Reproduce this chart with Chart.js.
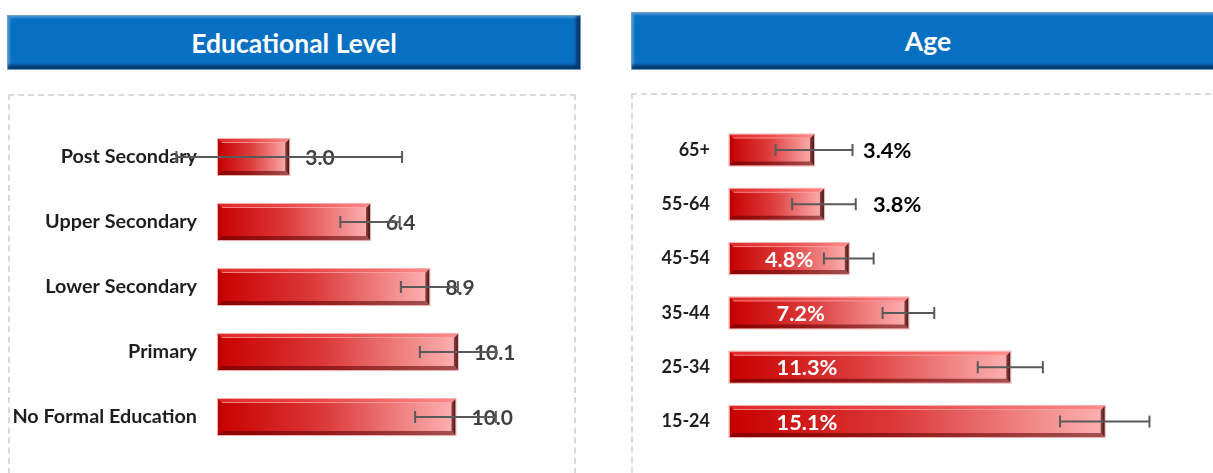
<!DOCTYPE html>
<html>
<head>
<meta charset="utf-8">
<script src="https://cdn.jsdelivr.net/npm/chart.js@4.4.1/dist/chart.umd.min.js"></script>
<style>
  html, body { margin: 0; padding: 0; background: #ffffff; }
  body { width: 1213px; height: 473px; overflow: hidden; position: relative; font-family: Lato, "Open Sans", sans-serif; }
  .title-bar {
    position: absolute; box-sizing: border-box;
    background: #0870c2;
    border: 1px solid #6f9cc8;
    box-shadow: inset -4px -4px 3px rgba(0, 10, 45, 0.55), inset 2px 2px 2px rgba(255, 255, 255, 0.25);
    color: #ffffff; font-weight: 700; font-size: 26.5px;
    display: flex; align-items: center; justify-content: center;
  }
  .panel {
    position: absolute; box-sizing: border-box;
    border: 2px dashed #d9d9d9;
  }
  canvas { position: absolute; }
</style>
</head>
<body>
<div class="title-bar" style="left:7px; top:15px; width:574px; height:55px;">Educational Level</div>
<div class="title-bar" style="left:631px; top:12px; width:594px; height:58px;">Age</div>
<div class="panel" style="left:8px; top:94px; width:568px; height:400px;"></div>
<div class="panel" style="left:631px; top:93px; width:600px; height:400px;"></div>
<canvas id="eduChart" width="600" height="377" style="left:0px; top:96px;"></canvas>
<canvas id="ageChart" width="593" height="377" style="left:620px; top:96px;"></canvas>

<script>
// Unemployment rate by educational level
const eduLabels = ['Post Secondary', 'Upper Secondary', 'Lower Secondary', 'Primary', 'No Formal Education'];
const eduValues = [3.0, 6.4, 8.9, 10.1, 10.0];
const eduErrors = [4.75, 1.25, 1.2, 1.6, 1.7];

// Unemployment rate by age group
const ageLabels = ['65+', '55-64', '45-54', '35-44', '25-34', '15-24'];
const ageValues = [3.4, 3.8, 4.8, 7.2, 11.3, 15.1];
const ageErrors = [1.55, 1.28, 1.0, 1.04, 1.31, 1.8];

const FONT = 'Lato, "Open Sans", sans-serif';

function barGeometry(bar) {
  const p = bar.getProps(['x', 'y', 'base', 'height'], true);
  return {
    x0: Math.min(p.base, p.x), x1: Math.max(p.base, p.x),
    y0: p.y - p.height / 2, y1: p.y + p.height / 2, cy: p.y
  };
}

// Red gradient fill running from the base of each bar to its end
function redGradient(ctx) {
  const chart = ctx.chart;
  const xs = chart.scales.x;
  if (ctx.type !== 'data' || !xs) return '#d02020';
  const a = xs.getPixelForValue(0);
  const b = xs.getPixelForValue(ctx.raw);
  if (!isFinite(a) || !isFinite(b) || Math.abs(b - a) < 1) return '#d02020';
  const g = chart.ctx.createLinearGradient(a, 0, b, 0);
  g.addColorStop(0, '#c80000');
  g.addColorStop(0.45, '#dc3a3a');
  g.addColorStop(1, '#fdb2b2');
  return g;
}

// Bevelled edges drawn over every bar
const bevelPlugin = {
  id: 'bevel',
  afterDatasetsDraw(chart) {
    const ctx = chart.ctx;
    chart.getDatasetMeta(0).data.forEach(bar => {
      const { x0, x1, y0, y1 } = barGeometry(bar);
      const b = 4;
      const poly = (pts, fill) => {
        ctx.beginPath();
        ctx.moveTo(pts[0][0], pts[0][1]);
        for (let k = 1; k < pts.length; k++) ctx.lineTo(pts[k][0], pts[k][1]);
        ctx.closePath();
        ctx.fillStyle = fill;
        ctx.fill();
      };
      ctx.save();
      // top highlight
      poly([[x0, y0], [x1, y0], [x1 - b, y0 + b], [x0 + b, y0 + b]], 'rgba(255,90,90,0.45)');
      ctx.fillStyle = 'rgba(255,190,190,0.6)';
      ctx.fillRect(x0 + b, y0 + b - 1, x1 - x0 - 2 * b, 1);
      // left edge
      poly([[x0, y0], [x0 + b, y0 + b], [x0 + b, y1 - b], [x0, y1]], 'rgba(150,0,0,0.25)');
      // bottom shade
      poly([[x0, y1], [x1, y1], [x1 - b, y1 - b], [x0 + b, y1 - b]], 'rgba(90,0,0,0.55)');
      // right shade
      const rg = ctx.createLinearGradient(x1 - b, 0, x1, 0);
      rg.addColorStop(0, 'rgba(110,30,30,0.75)');
      rg.addColorStop(1, 'rgba(50,15,15,0.95)');
      poly([[x1, y0], [x1, y1], [x1 - b, y1 - b], [x1 - b, y0 + b]], rg);
      // thin outer rim
      ctx.strokeStyle = 'rgba(235,140,140,0.7)';
      ctx.lineWidth = 1;
      ctx.strokeRect(x0 - 0.5, y0 - 0.5, x1 - x0 + 1, y1 - y0 + 1);
      ctx.restore();
    });
  }
};

// Value labels
const valueLabelPlugin = {
  id: 'valueLabels',
  afterDatasetsDraw(chart, args, opts) {
    const ctx = chart.ctx;
    const values = chart.data.datasets[0].data;
    ctx.save();
    ctx.font = 'bold ' + opts.size + 'px ' + FONT;
    ctx.textBaseline = 'middle';
    ctx.textAlign = 'left';
    chart.getDatasetMeta(0).data.forEach((bar, i) => {
      const { x0, x1, cy } = barGeometry(bar);
      const v = values[i];
      const text = v.toFixed(1) + opts.suffix;
      const w = ctx.measureText(text).width;
      if (opts.mode === 'end') {
        ctx.fillStyle = opts.color;
        ctx.fillText(text, x1 + opts.offset, cy + 1);
      } else if (v < opts.insideFrom) {
        ctx.fillStyle = opts.outsideColor;
        ctx.fillText(text, x1 + opts.offset, cy + 1);
      } else {
        ctx.fillStyle = opts.insideColor;
        const cx = (x0 + x1) / 2;
        ctx.fillText(text, Math.min(x0 + opts.insideOffset, cx - w / 2), cy + 1);
      }
    });
    ctx.restore();
  }
};

// Error bars with caps
const errorBarPlugin = {
  id: 'errorBars',
  afterDatasetsDraw(chart, args, opts) {
    const ctx = chart.ctx;
    const xs = chart.scales.x;
    const values = chart.data.datasets[0].data;
    ctx.save();
    ctx.strokeStyle = '#5a5a5a';
    ctx.lineWidth = 2;
    chart.getDatasetMeta(0).data.forEach((bar, i) => {
      const { cy } = barGeometry(bar);
      const lo = xs.getPixelForValue(values[i] - opts.errors[i]);
      const hi = xs.getPixelForValue(values[i] + opts.errors[i]);
      ctx.beginPath();
      ctx.moveTo(lo, cy); ctx.lineTo(hi, cy);
      ctx.moveTo(lo, cy - 6); ctx.lineTo(lo, cy + 6);
      ctx.moveTo(hi, cy - 6); ctx.lineTo(hi, cy + 6);
      ctx.stroke();
    });
    ctx.restore();
  }
};

function makeChart(id, labels, values, errors, cfg) {
  return new Chart(document.getElementById(id), {
    type: 'bar',
    data: {
      labels: labels,
      datasets: [{
        data: values,
        backgroundColor: redGradient,
        borderWidth: 0,
        categoryPercentage: 1,
        barPercentage: cfg.barPct
      }]
    },
    options: {
      indexAxis: 'y',
      responsive: false,
      animation: false,
      events: [],
      layout: { padding: cfg.padding },
      scales: {
        x: { display: false, min: 0, max: cfg.xMax },
        y: {
          grid: { display: false, drawTicks: false },
          border: { display: false },
          ticks: {
            color: '#1e1e1e',
            font: { family: FONT, size: cfg.tickSize, weight: 'bold' },
            padding: cfg.tickPad
          },
          afterFit(scale) {
            scale.width = cfg.axisWidth;
            scale.paddingTop = 0;
            scale.paddingBottom = 0;
          }
        }
      },
      plugins: {
        legend: { display: false },
        tooltip: { enabled: false },
        valueLabels: cfg.labels,
        errorBars: { errors: errors }
      }
    },
    plugins: [bevelPlugin, valueLabelPlugin, errorBarPlugin]
  });
}

makeChart('eduChart', eduLabels, eduValues, eduErrors, {
  barPct: 0.554,
  padding: { top: 28.5, bottom: 23.5, left: 0, right: 49.5 },
  xMax: 14,
  tickPad: 21,
  tickSize: 19.8,
  axisWidth: 218,
  labels: { mode: 'end', size: 21, suffix: '', color: '#404040', offset: 16 }
});

makeChart('ageChart', ageLabels, ageValues, ageErrors, {
  barPct: 0.571,
  padding: { top: 26.85, bottom: 24.35, left: 0, right: 36.2 },
  xMax: 18,
  tickPad: 19.5,
  tickSize: 18,
  axisWidth: 109.5,
  labels: { mode: 'auto', size: 21.8, suffix: '%', insideFrom: 4,
            outsideColor: '#000000', insideColor: '#ffffff',
            offset: 49, insideOffset: 47 }
});
</script>
</body>
</html>
